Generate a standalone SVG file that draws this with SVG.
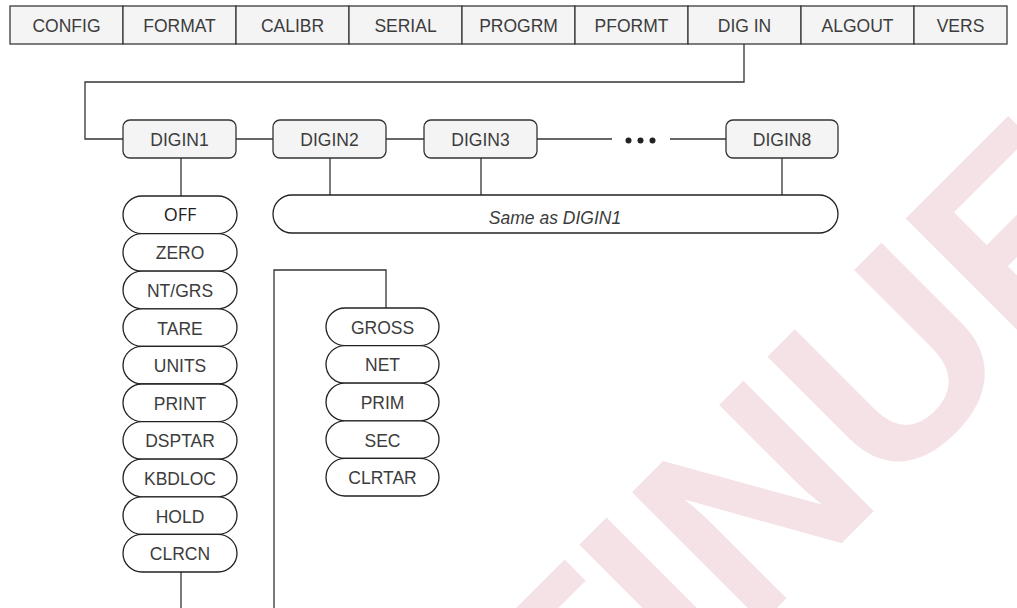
<svg xmlns="http://www.w3.org/2000/svg" width="1017" height="608" viewBox="0 0 1017 608">
<style>
.bg{fill:#ffffff}
.wm{font-family:"Liberation Sans",Arial,sans-serif;font-weight:bold;font-size:268px;fill:#f5e2e6}
.cell{fill:#f4f4f4;stroke:#3a3a3a;stroke-width:1.3}
.box{fill:#f4f4f4;stroke:#333;stroke-width:1.3}
.pill{fill:#ffffff;stroke:#222;stroke-width:1.3}
.t{font-family:"Liberation Sans",Arial,sans-serif;font-size:17.5px;fill:#3c3c3c;text-anchor:middle}
.off{font-family:"Open Sans","Noto Sans",sans-serif;font-size:18px;fill:#1e1e1e;text-anchor:middle}
.it{font-family:"Liberation Sans",Arial,sans-serif;font-size:17.5px;font-style:italic;fill:#3c3c3c;text-anchor:middle}
.ln{fill:none;stroke:#333;stroke-width:1.3}
.dot{fill:#222}
</style>
<rect class="bg" x="0" y="0" width="1017" height="608"/>
<g id="watermark">
<text class="wm" transform="translate(749.9,635) rotate(-45)" x="759" y="0" text-anchor="end">DISCONTINUED</text>
</g>
<g id="connectors">
<path class="ln" d="M744,44 V82 H85 V139 H123"/>
<path class="ln" d="M236,139 H273"/>
<path class="ln" d="M386,139 H424"/>
<path class="ln" d="M537,139 H612"/>
<path class="ln" d="M670,139 H726"/>
<circle class="dot" cx="628.5" cy="140.5" r="3"/>
<circle class="dot" cx="640.5" cy="140.5" r="3"/>
<circle class="dot" cx="652.5" cy="140.5" r="3"/>
<path class="ln" d="M181,158 V196"/>
<path class="ln" d="M330,158 V195"/>
<path class="ln" d="M481,158 V195"/>
<path class="ln" d="M782,158 V195"/>
<path class="ln" d="M181,572 V608"/>
<path class="ln" d="M274,608 V270 H386 V308"/>
</g>
<g id="menu">
<g id="m-config"><rect class="cell" x="10" y="6" width="113" height="38"/><text class="t" x="66.5" y="31.5">CONFIG</text></g>
<g id="m-format"><rect class="cell" x="123" y="6" width="113" height="38"/><text class="t" x="179.5" y="31.5">FORMAT</text></g>
<g id="m-calibr"><rect class="cell" x="236" y="6" width="113" height="38"/><text class="t" x="292.5" y="31.5">CALIBR</text></g>
<g id="m-serial"><rect class="cell" x="349" y="6" width="113" height="38"/><text class="t" x="405.5" y="31.5">SERIAL</text></g>
<g id="m-progrm"><rect class="cell" x="462" y="6" width="113" height="38"/><text class="t" x="518.5" y="31.5">PROGRM</text></g>
<g id="m-pformt"><rect class="cell" x="575" y="6" width="113" height="38"/><text class="t" x="631.5" y="31.5">PFORMT</text></g>
<g id="m-digin"><rect class="cell" x="688" y="6" width="113" height="38"/><text class="t" x="744.5" y="31.5">DIG IN</text></g>
<g id="m-algout"><rect class="cell" x="801" y="6" width="113" height="38"/><text class="t" x="857.5" y="31.5">ALGOUT</text></g>
<g id="m-vers"><rect class="cell" x="914" y="6" width="93" height="38"/><text class="t" x="960.5" y="31.5">VERS</text></g>
</g>
<g id="digin1"><rect class="box" x="123" y="120" width="113" height="38" rx="7"/><text class="t" x="179.5" y="146">DIGIN1</text></g>
<g id="digin2"><rect class="box" x="273" y="120" width="113" height="38" rx="7"/><text class="t" x="329.5" y="146">DIGIN2</text></g>
<g id="digin3"><rect class="box" x="424" y="120" width="113" height="38" rx="7"/><text class="t" x="480.5" y="146">DIGIN3</text></g>
<g id="digin8"><rect class="box" x="726" y="120" width="112" height="38" rx="7"/><text class="t" x="782" y="146">DIGIN8</text></g>
<g id="same"><rect class="pill" x="273" y="195" width="565" height="38" rx="19"/><text class="it" x="555" y="224">Same as DIGIN1</text></g>
<g id="opt-off"><rect class="pill" x="123" y="196" width="114" height="37.6" rx="19"/><text class="off" x="180" y="221">OFF</text></g>
<g id="opt-zero"><rect class="pill" x="123" y="233.6" width="114" height="37.6" rx="19"/><text class="t" x="180" y="259.4">ZERO</text></g>
<g id="opt-ntgrs"><rect class="pill" x="123" y="271.2" width="114" height="37.6" rx="19"/><text class="t" x="180" y="297">NT/GRS</text></g>
<g id="opt-tare"><rect class="pill" x="123" y="308.8" width="114" height="37.6" rx="19"/><text class="t" x="180" y="334.6">TARE</text></g>
<g id="opt-units"><rect class="pill" x="123" y="346.4" width="114" height="37.6" rx="19"/><text class="t" x="180" y="372.2">UNITS</text></g>
<g id="opt-print"><rect class="pill" x="123" y="384" width="114" height="37.6" rx="19"/><text class="t" x="180" y="409.8">PRINT</text></g>
<g id="opt-dsptar"><rect class="pill" x="123" y="421.6" width="114" height="37.6" rx="19"/><text class="t" x="180" y="447.4">DSPTAR</text></g>
<g id="opt-kbdloc"><rect class="pill" x="123" y="459.2" width="114" height="37.6" rx="19"/><text class="t" x="180" y="485">KBDLOC</text></g>
<g id="opt-hold"><rect class="pill" x="123" y="496.8" width="114" height="37.6" rx="19"/><text class="t" x="180" y="522.6">HOLD</text></g>
<g id="opt-clrcn"><rect class="pill" x="123" y="534.4" width="114" height="37.6" rx="19"/><text class="t" x="180" y="560.2">CLRCN</text></g>
<g id="opt-gross"><rect class="pill" x="326" y="308" width="113" height="37.6" rx="19"/><text class="t" x="382.5" y="333.8">GROSS</text></g>
<g id="opt-net"><rect class="pill" x="326" y="345.6" width="113" height="37.6" rx="19"/><text class="t" x="382.5" y="371.4">NET</text></g>
<g id="opt-prim"><rect class="pill" x="326" y="383.2" width="113" height="37.6" rx="19"/><text class="t" x="382.5" y="409">PRIM</text></g>
<g id="opt-sec"><rect class="pill" x="326" y="420.8" width="113" height="37.6" rx="19"/><text class="t" x="382.5" y="446.6">SEC</text></g>
<g id="opt-clrtar"><rect class="pill" x="326" y="458.4" width="113" height="37.6" rx="19"/><text class="t" x="382.5" y="484.2">CLRTAR</text></g>
</svg>
